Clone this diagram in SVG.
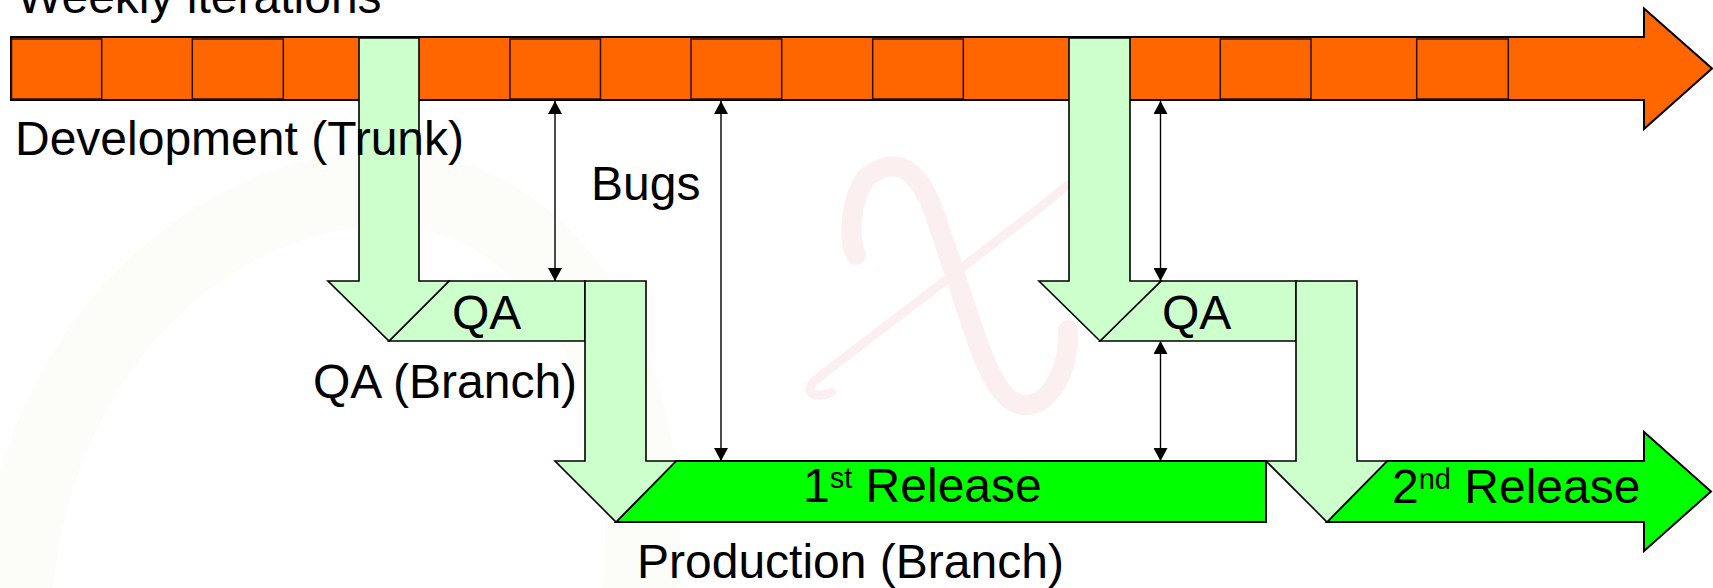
<svg xmlns="http://www.w3.org/2000/svg" width="1713" height="588" viewBox="0 0 1713 588">
  <style>
    .lbl { font-family: "Liberation Sans", Arial, sans-serif; font-size: 48px; fill: #000; }
    .trunk { fill: #FF6600; stroke: #000; stroke-width: 2; stroke-linejoin: miter; }
    .cell { fill: none; stroke: #2a1000; stroke-width: 1.5; }
    .qa { fill: #CCFFCC; stroke: #000; stroke-width: 1.6; stroke-linejoin: miter; }
    .rel { fill: #00FF00; stroke: #000; stroke-width: 2; stroke-linejoin: miter; }
    .conn { stroke: #000; stroke-width: 1.4; fill: none; marker-start: url(#ah); marker-end: url(#ah); }
    .wm { fill: none; stroke-linecap: round; }
  </style>
  <defs>
    <marker id="ah" viewBox="0 0 13 14" markerWidth="13" markerHeight="14" refX="13" refY="7" markerUnits="userSpaceOnUse" orient="auto-start-reverse">
      <path d="M0,0 L13,7 L0,14 Z" fill="#000"/>
    </marker>
  </defs>
  <rect width="1713" height="588" fill="#fff"/>

  <!-- faint watermark -->
  <g id="watermark">
    <path class="wm" d="M 15 588 C 40 330, 230 175, 410 190 C 560 205, 660 380, 640 588" stroke="#fcfcf8" stroke-width="75"/>
    <path class="wm" d="M 866 178 C 850 200, 848 240, 856 255 M 868 176 C 905 150, 925 180, 940 230 C 975 330, 990 405, 1025 405 C 1055 405, 1070 360, 1068 330" stroke="#fcefef" stroke-width="20"/>
    <path class="wm" d="M 1068 185 C 1000 240, 880 330, 818 378 C 800 392, 815 400, 832 392" stroke="#fcefef" stroke-width="9"/>
  </g>

  <g id="trunk">
    <polygon class="trunk" points="11,37 1644,37 1644,8.5 1712,68.5 1644,129 1644,100 11,100"/>
    <rect class="cell" x="11.5" y="39" width="90.2" height="60"/>
    <rect class="cell" x="192.3" y="39" width="91" height="60"/>
    <rect class="cell" x="510" y="39" width="90.5" height="60"/>
    <rect class="cell" x="691" y="39" width="90.7" height="60"/>
    <rect class="cell" x="872.7" y="39" width="90.6" height="60"/>
    <rect class="cell" x="1220.3" y="39" width="90.7" height="60"/>
    <rect class="cell" x="1416.7" y="39" width="91.6" height="60"/>
  </g>

  <g id="qa-branch-1">
    <polygon class="qa" points="449,281 585,281 585,341 389,341"/>
  </g>
  <g id="release-1">
    <polygon class="rel" points="676,461 1266,461 1266,522 616,522"/>
  </g>
  <g id="qa-branch-2">
    <polygon class="qa" points="1161,281 1296,281 1296,341 1100,341"/>
  </g>
  <g id="release-2">
    <polygon class="rel" points="1387,461 1644,461 1644,432 1711,491.5 1644,551 1644,522 1327,522"/>
  </g>

  <g id="branch-arrow-1">
    <polygon class="qa" points="359,38 419,38 419,281 449,281 389,341 328,281 359,281"/>
  </g>
  <g id="release-arrow-1">
    <polygon class="qa" points="585,281 646,281 646,461 676,461 616,522 555,461 585,461"/>
  </g>
  <g id="branch-arrow-2">
    <polygon class="qa" points="1069,38 1130,38 1130,281 1161,281 1100,341 1039,281 1069,281"/>
  </g>
  <g id="release-arrow-2">
    <polygon class="qa" points="1296,281 1357,281 1357,461 1387,461 1327,522 1266,461 1296,461"/>
  </g>

  <g id="connectors">
    <line class="conn" x1="555" y1="101" x2="555" y2="281"/>
    <line class="conn" x1="721" y1="101" x2="721" y2="461"/>
    <line class="conn" x1="1160.5" y1="101" x2="1160.5" y2="281"/>
    <line class="conn" x1="1160.5" y1="341" x2="1160.5" y2="461"/>
  </g>

  <g id="labels">
    <text class="lbl" x="17" y="13">Weekly iterations</text>
    <text class="lbl" x="15" y="155">Development (Trunk)</text>
    <text class="lbl" x="591" y="200">Bugs</text>
    <text class="lbl" x="452" y="329">QA</text>
    <text class="lbl" x="1162" y="329">QA</text>
    <text class="lbl" x="313" y="398">QA (Branch)</text>
    <text class="lbl" x="803" y="502">1<tspan font-size="29" dy="-14">st</tspan><tspan dy="14"> Release</tspan></text>
    <text class="lbl" x="1392" y="503">2<tspan font-size="29" dy="-14">nd</tspan><tspan dy="14"> Release</tspan></text>
    <text class="lbl" x="637" y="578">Production (Branch)</text>
  </g>
</svg>
